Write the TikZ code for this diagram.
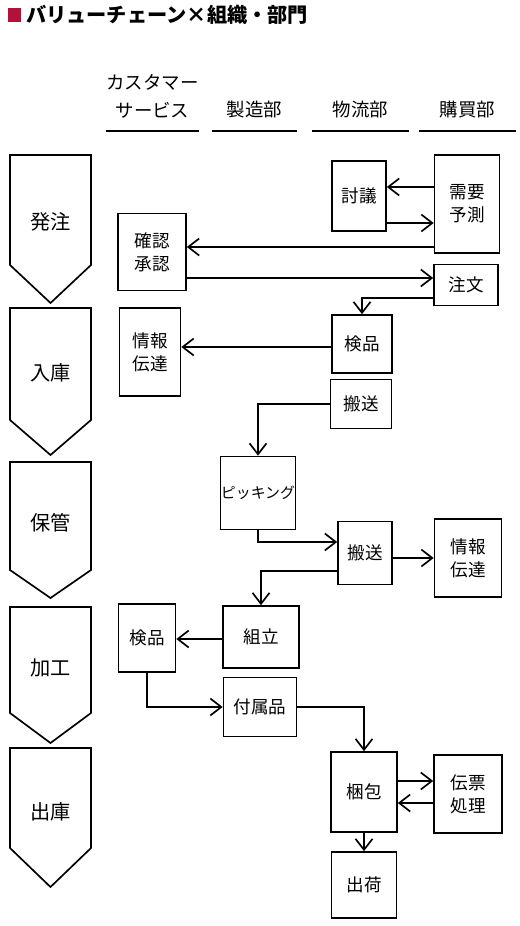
\documentclass[tikz,border=0pt]{standalone}
\usepackage{fontspec}
\setmainfont{Noto Sans CJK JP}
\usetikzlibrary{positioning,arrows.meta}
\definecolor{titlered}{RGB}{178,18,58}

\begin{document}
\begin{tikzpicture}[x=0.02cm, y=-0.02cm, line width=0.95pt, font=\fontsize{10pt}{13pt}\selectfont,
  box/.style={draw, align=center, inner sep=0pt},
  stage/.style={inner sep=0pt, font=\fontsize{11.5pt}{14pt}\selectfont},
  head/.style={anchor=south, align=center, inner xsep=0pt, inner ysep=0.24cm, font=\fontsize{10.5pt}{16pt}\selectfont},
  uline/.style={line width=1.7pt},
  arr/.style={-{Straight Barb[length=2.2mm, width=3.4mm]}}]
\useasboundingbox (0,0) rectangle (520,926);
\node[fill=titlered, minimum size=0.28cm, inner sep=0pt] (mark) at (14.5,15) {};
\node[right=0.06cm of mark, inner sep=0pt, font=\bfseries\fontsize{11.5pt}{14pt}\selectfont] (title) {バリューチェーン×組織・部門};
\node[head, minimum width=1.78cm] (cs) at (152.5,131) {カスタマー\\サービス};
\node[head, minimum width=1.66cm] (mfg) at (254.5,131) {製造部};
\node[head, minimum width=1.90cm] (logi) at (360.5,131) {物流部};
\node[head, minimum width=1.90cm] (buy) at (467.5,131) {購買部};
\foreach \hd in {cs,mfg,logi,buy} \draw[uline] (\hd.south west) -- (\hd.south east);
\foreach \nm/\txt/\top/\bot/\tip/\ty in {hatchu/発注/155/265/303/222, nyuko/入庫/308/420/455/373, hokan/保管/462/570/598/523, kako/加工/607/713/743/668, shukko/出庫/748/848/887/812} {
  \node[stage] (\nm) at (50.5,\ty) {\txt};
  \draw (10,\top) -- (91,\top) -- (91,\bot) -- (50.5,\tip) -- (10,\bot) -- cycle;
}
\node[box, minimum width=1.08cm, minimum height=1.40cm] (giron) at (359,196) {討議};
\node[box, minimum width=1.30cm, minimum height=1.96cm] (juyo) at (467,204) {需要\\予測};
\node[box, minimum width=1.36cm, minimum height=1.54cm] (kakunin) at (152,252) {確認\\承認};
\node[box, minimum width=1.28cm, minimum height=0.82cm] (chumon) at (466,285) {注文};
\node[box, minimum width=1.20cm, minimum height=1.16cm] (kenpinA) at (362,344) {検品};
\node[box, minimum width=1.22cm, minimum height=1.76cm] (johoA) at (150,352) {情報\\伝達};
\node[box, minimum width=1.22cm, minimum height=0.98cm] (hansoA) at (361,404) {搬送};
\node[box, minimum width=1.50cm, minimum height=1.46cm, font=\fontsize{8.5pt}{10pt}\selectfont] (picking) at (258,493) {ピッキング};
\node[box, minimum width=1.08cm, minimum height=1.26cm] (hansoB) at (365,553) {搬送};
\node[box, minimum width=1.34cm, minimum height=1.56cm] (johoB) at (468,558) {情報\\伝達};
\node[box, minimum width=1.52cm, minimum height=1.24cm] (kumitate) at (261,637) {組立};
\node[box, minimum width=1.14cm, minimum height=1.36cm] (kenpinB) at (147,638) {検品};
\node[box, minimum width=1.46cm, minimum height=1.18cm] (fuzoku) at (260,707) {付属品};
\node[box, minimum width=1.32cm, minimum height=1.60cm] (konpo) at (364,792) {梱包};
\node[box, minimum width=1.36cm, minimum height=1.56cm] (denpyo) at (468,794) {伝票\\処理};
\node[box, minimum width=1.30cm, minimum height=1.32cm] (shukka) at (364,885) {出荷};
\draw[arr] (juyo.west |- 0,187) -- (giron.east |- 0,187); \draw[arr] (giron.east |- 0,223) -- (juyo.west |- 0,223);
\draw[arr] (juyo.west |- 0,247) -- (kakunin.east |- 0,247); \draw[arr] (kakunin.east |- 0,278) -- (chumon.west |- 0,278);
\draw[arr] (chumon.west |- 0,298) -| (kenpinA.north);
\draw[arr] (kenpinA.west |- 0,347) -- (johoA.east |- 0,347);
\draw[arr] (hansoA.west) -| (picking.north);
\draw[arr] (picking.south) |- (hansoB.west |- 0,542);
\draw[arr] (hansoB.east |- 0,558) -- (johoB.west |- 0,558);
\draw[arr] (hansoB.west |- 0,571) -| (kumitate.north);
\draw[arr] (kumitate.west |- 0,639) -- (kenpinB.east |- 0,639);
\draw[arr] (kenpinB.south) |- (fuzoku.west);
\draw[arr] (fuzoku.east) -| (konpo.north);
\draw[arr] (konpo.east |- 0,781) -- (denpyo.west |- 0,781); \draw[arr] (denpyo.west |- 0,803) -- (konpo.east |- 0,803);
\draw[arr] (konpo.south) -- (shukka.north);
\end{tikzpicture}
\end{document}
